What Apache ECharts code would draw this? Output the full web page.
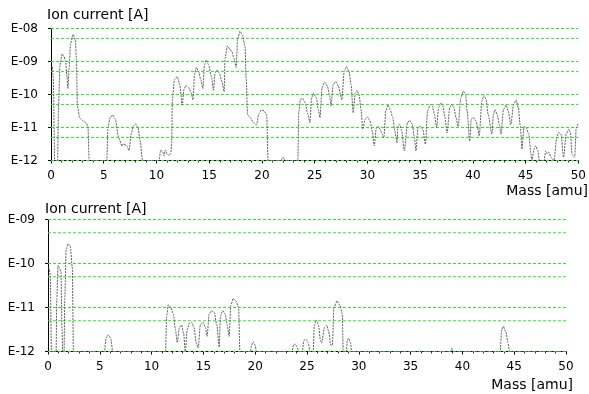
<!DOCTYPE html>
<html>
<head>
<meta charset="utf-8">
<script src="https://cdn.jsdelivr.net/npm/echarts@6/dist/echarts.min.js"></script>
<style>
  html, body { margin: 0; padding: 0; background: #fff; }
  #chart { width: 589px; height: 394px; }
</style>
</head>
<body>
<div id="chart"></div>
<script>
// Upper spectrum: mass [amu] and ion current [A]
const topMass = [
  0.0, 0.12, 0.22, 0.35, 0.62, 0.72, 0.85, 1.06, 1.25, 1.37, 1.5, 1.6, 1.72, 1.85, 2.1, 2.3, 2.42, 2.5, 2.73, 3.0,
  3.35, 3.5, 3.62, 5.29, 5.4, 5.6, 5.86, 6.1, 6.4, 6.74, 6.85, 7.2, 7.4, 7.6, 7.8, 8.0, 8.25, 8.45, 8.68, 10.25,
  10.4, 10.6, 10.7, 10.85, 11.0, 11.2, 11.35, 11.44, 11.5, 11.7, 11.97, 12.2, 12.44, 12.6, 12.8, 13.05, 13.3, 13.47, 13.6, 13.78,
  14.0, 14.2, 14.4, 14.55, 14.72, 14.95, 15.2, 15.41, 15.55, 15.73, 15.95, 16.2, 16.42, 16.5, 16.73, 16.95, 17.15, 17.35, 17.55, 17.7,
  17.92, 18.15, 18.4, 18.5, 18.64, 18.9, 19.2, 19.49, 19.7, 19.95, 20.2, 20.45, 20.58, 21.8, 22.0, 22.2, 23.4, 23.5, 23.65, 23.87,
  24.1, 24.35, 24.55, 24.7, 24.9, 25.15, 25.35, 25.5, 25.7, 25.95, 26.2, 26.4, 26.55, 26.75, 27.0, 27.25, 27.45, 27.57, 27.8, 28.02,
  28.25, 28.45, 28.65, 28.85, 29.0, 29.2, 29.4, 29.55, 29.8, 30.0, 30.25, 30.45, 30.65, 30.85, 31.0, 31.2, 31.4, 31.55, 31.75, 31.95,
  32.15, 32.4, 32.6, 32.8, 32.9, 33.05, 33.25, 33.5, 33.8, 34.0, 34.25, 34.45, 34.6, 34.8, 35.0, 35.25, 35.5, 35.7, 35.95, 36.15,
  36.35, 36.56, 36.75, 36.95, 37.15, 37.35, 37.56, 37.8, 38.0, 38.2, 38.4, 38.6, 38.85, 39.1, 39.3, 39.45, 39.7, 39.85, 40.05, 40.3,
  40.45, 40.6, 40.85, 41.05, 41.25, 41.45, 41.8, 41.95, 42.1, 42.3, 42.5, 42.67, 42.9, 43.14, 43.35, 43.6, 43.85, 44.1, 44.3, 44.5,
  44.65, 44.85, 45.05, 45.3, 45.5, 45.6, 45.8, 45.96, 46.15, 46.3, 46.75, 46.9, 47.05, 47.2, 47.4, 47.7, 47.95, 48.15, 48.35, 48.6,
  48.85, 49.1, 49.25, 49.4, 49.65, 49.8, 50.0
];
const topCurrent = [
  6.3e-10, 7.1e-10, 3.2e-10, 1e-12, 1e-12, 5.0e-11, 7.9e-10, 1.7e-9, 1.4e-9, 1.05e-9, 4.0e-10, 1.5e-10, 6.3e-10, 3.5e-9, 6.6e-9, 4.5e-9, 1.0e-9, 4.5e-11, 1.9e-11, 1.6e-11,
  1.35e-11, 1.07e-11, 1e-12, 1e-12, 1.0e-11, 2.0e-11, 2.4e-11, 1.8e-11, 5.0e-12, 2.75e-12, 3.2e-12, 2.8e-12, 2.0e-12, 6.3e-12, 1.1e-11, 1.3e-11, 1.0e-11, 4.0e-12, 1e-12, 1e-12,
  2.1e-12, 1.8e-12, 1.4e-12, 2.1e-12, 1.6e-12, 1.4e-12, 1.6e-12, 3.2e-12, 6.3e-11, 2.8e-10, 3.5e-10, 2.0e-10, 4.8e-11, 1.4e-10, 1.9e-10, 1.6e-10, 1.1e-10, 6.8e-11, 4.0e-10, 6.6e-10,
  5.0e-10, 2.8e-10, 1.5e-10, 7.9e-10, 1.1e-9, 7.9e-10, 3.5e-10, 1.35e-10, 4.5e-10, 5.6e-10, 4.5e-10, 2.5e-10, 1.2e-10, 1.26e-9, 2.95e-9, 2.4e-9, 2.0e-9, 1.26e-9, 6.6e-10, 5.0e-9,
  8.3e-9, 6.3e-9, 2.8e-9, 3.2e-10, 2.4e-11, 2.0e-11, 1.4e-11, 1.2e-11, 2.5e-11, 3.4e-11, 3.2e-11, 2.4e-11, 1e-12, 1e-12, 1.26e-12, 1e-12, 1e-12, 3.2e-11, 7.1e-11, 7.6e-11,
  5.6e-11, 2.5e-11, 1.4e-11, 7.9e-11, 1.1e-10, 7.9e-11, 3.5e-11, 2.0e-11, 1.6e-10, 2.4e-10, 1.8e-10, 1.0e-10, 4.5e-11, 2.0e-10, 2.5e-10, 1.8e-10, 1.0e-10, 6.8e-11, 5.0e-10, 7.1e-10,
  5.0e-10, 2.0e-10, 2.8e-11, 1.1e-10, 1.35e-10, 1.0e-10, 3.5e-11, 8.9e-12, 1.8e-11, 2.1e-11, 1.6e-11, 7.9e-12, 2.8e-12, 1.0e-11, 1.1e-11, 8.9e-12, 6.3e-12, 4.8e-12, 3.2e-11, 4.8e-11,
  3.5e-11, 2.0e-11, 7.9e-12, 3.4e-12, 1.1e-11, 1.26e-11, 7.9e-12, 1.95e-12, 1.4e-11, 1.66e-11, 1.26e-11, 5.0e-12, 1.95e-12, 1.0e-11, 1.1e-11, 8.9e-12, 3.1e-12, 3.2e-11, 5.0e-11, 4.5e-11,
  2.5e-11, 1.0e-11, 4.0e-11, 5.6e-11, 4.5e-11, 2.0e-11, 6.8e-12, 4.0e-11, 5.0e-11, 4.0e-11, 2.0e-11, 1.07e-11, 7.9e-11, 1.26e-10, 1.0e-10, 3.2e-11, 3.9e-12, 1.8e-11, 2.0e-11, 1.6e-11,
  1.0e-11, 5.5e-12, 6.3e-11, 9.3e-11, 7.1e-11, 2.5e-11, 6.2e-12, 2.5e-11, 3.5e-11, 2.5e-11, 1.26e-11, 6.2e-12, 3.5e-11, 4.8e-11, 3.2e-11, 1.2e-11, 5.0e-11, 6.8e-11, 4.0e-11, 1.1e-11,
  2.2e-12, 1.07e-11, 1.0e-11, 6.3e-12, 1.6e-12, 1e-12, 2.2e-12, 2.8e-12, 2.0e-12, 1e-12, 1e-12, 1.95e-12, 1.6e-12, 1.8e-12, 1.26e-12, 1e-12, 5.0e-12, 7.1e-12, 6.3e-12, 1.26e-12,
  6.3e-12, 8.9e-12, 7.1e-12, 1.5e-12, 1.26e-12, 1.0e-11, 1.4e-11
];

// Lower spectrum: mass [amu] and ion current [A]
const bottomMass = [
  0.0, 0.12, 0.22, 0.33, 0.78, 0.85, 0.97, 1.12, 1.25, 1.35, 1.42, 1.55, 1.62, 1.75, 1.93, 2.15, 2.35, 2.45, 5.45, 5.6,
  5.8, 6.05, 6.25, 11.35, 11.45, 11.6, 11.85, 12.1, 12.3, 12.47, 12.7, 12.9, 13.1, 13.25, 13.45, 13.65, 13.86, 14.1, 14.3, 14.5,
  14.7, 14.98, 15.2, 15.36, 15.55, 15.79, 16.05, 16.3, 16.52, 16.65, 16.85, 17.1, 17.3, 17.49, 17.65, 17.87, 18.15, 18.4, 18.52, 19.55,
  19.65, 19.8, 20.0, 20.1, 23.55, 23.7, 23.84, 24.05, 24.2, 24.55, 24.7, 24.9, 25.1, 25.3, 25.6, 25.7, 25.9, 26.1, 26.3, 26.4,
  26.7, 26.9, 27.1, 27.3, 27.45, 27.6, 27.9, 28.2, 28.4, 28.5, 28.8, 28.9, 29.0, 29.2, 29.3, 38.85, 38.98, 39.1, 43.64, 43.8,
  43.96, 44.2, 44.4, 44.54, 50.0
];
const bottomCurrent = [
  7.9e-11, 7.8e-11, 5.0e-11, 1e-12, 1e-12, 1.6e-11, 9.1e-11, 7.9e-11, 6.3e-11, 3.2e-12, 1e-12, 1e-12, 1.6e-11, 2.0e-10, 2.8e-10, 2.5e-10, 7.9e-11, 1e-12, 1e-12, 2.0e-12,
  2.4e-12, 2.0e-12, 1e-12, 1e-12, 6.3e-12, 1.15e-11, 1.0e-11, 7.1e-12, 3.2e-12, 1.6e-12, 3.6e-12, 4.0e-12, 2.5e-12, 1e-12, 3.2e-12, 4.4e-12, 4.6e-12, 3.5e-12, 1.6e-12, 1.2e-12,
  4.0e-12, 4.6e-12, 3.5e-12, 2.2e-12, 7.1e-12, 8.5e-12, 7.6e-12, 4.0e-12, 1.26e-12, 6.3e-12, 8.5e-12, 7.1e-12, 4.0e-12, 2.2e-12, 1.1e-11, 1.6e-11, 1.4e-11, 1.0e-11, 1e-12, 1e-12,
  1.4e-12, 1.66e-12, 1.4e-12, 1e-12, 1e-12, 1.4e-12, 1.5e-12, 1.26e-12, 1e-12, 1e-12, 1.8e-12, 1.9e-12, 1.6e-12, 1e-12, 1e-12, 4.0e-12, 5.2e-12, 4.0e-12, 1.8e-12, 1.55e-12,
  3.5e-12, 4.0e-12, 2.8e-12, 1.4e-12, 1.4e-12, 1.0e-11, 1.4e-11, 1.1e-11, 7.1e-12, 1e-12, 1e-12, 1.8e-12, 2.0e-12, 1.6e-12, 1e-12, 1e-12, 1.2e-12, 1e-12, 1e-12, 3.2e-12,
  3.7e-12, 2.8e-12, 1.6e-12, 1e-12, 1e-12
];

// Axis ranges, decade and half-decade guide levels
const massTicks = [0, 5, 10, 15, 20, 25, 30, 35, 40, 45, 50];
const topRange = [1e-12, 1e-8];
const bottomRange = [1e-12, 1e-9];
const topGuides = [1e-8, 5e-9, 1e-9, 5e-10, 1e-10, 5e-11, 1e-11, 5e-12, 1e-12];
const bottomGuides = [1e-9, 5e-10, 1e-10, 5e-11, 1e-11, 5e-12, 1e-12];

const LABEL_FONT = "'DejaVu Sans', 'Liberation Sans', sans-serif";
const GREEN = '#22ee22';
const guideStyle = () => ({ color: GREEN, width: 1, type: [3, 2] });

function expLabel(v) {
  const e = Math.round(-Math.log10(v));
  return 'E-' + String(e).padStart(2, '0');
}

function xAxisCfg(gridIndex) {
  return {
    gridIndex,
    type: 'value',
    min: massTicks[0],
    max: massTicks[massTicks.length - 1],
    interval: massTicks[1] - massTicks[0],
    axisLine: { show: true, onZero: false, lineStyle: { color: '#000', width: 1 } },
    axisTick: { show: true, length: 3, lineStyle: { color: '#000' } },
    minorTick: { show: true, splitNumber: 5, length: 2, lineStyle: { color: '#333' } },
    splitLine: { show: false },
    axisLabel: { color: '#000', fontFamily: LABEL_FONT, fontSize: 12, margin: 9 }
  };
}

function yAxisCfg(gridIndex, range) {
  return {
    gridIndex,
    type: 'log',
    logBase: 10,
    min: range[0],
    max: range[1],
    axisLine: { show: true, lineStyle: { color: '#000', width: 1 } },
    axisTick: { show: true, length: 3, lineStyle: { color: '#000' } },
    splitLine: { show: false },
    axisLabel: { color: '#000', fontFamily: LABEL_FONT, fontSize: 12, margin: 13, formatter: expLabel }
  };
}

// Dashed green guide lines across the full mass range
function guideSeries(idx, levels) {
  return levels.map(v => ({
    type: 'line',
    xAxisIndex: idx,
    yAxisIndex: idx,
    data: [[massTicks[0], v], [massTicks[massTicks.length - 1], v]],
    showSymbol: false,
    silent: true,
    lineStyle: guideStyle(),
    z: 1
  }));
}

function spectrum(idx, masses, currents) {
  return {
    type: 'line',
    xAxisIndex: idx,
    yAxisIndex: idx,
    data: masses.map((m, i) => [m, currents[i]]),
    showSymbol: false,
    smooth: 0.25,
    smoothMonotone: 'x',
    clip: true,
    lineStyle: { color: '#606060', width: 1, type: [2, 1] },
    z: 3
  };
}

const nameStyle = { fill: '#000', font: '14px ' + LABEL_FONT };

const chart = echarts.init(document.getElementById('chart'), null, { renderer: 'canvas' });
chart.setOption({
  animation: false,
  backgroundColor: '#fff',
  grid: [
    { left: 51, right: 6, top: 28.5, height: 132 },
    { left: 48, right: 23, top: 219.5, height: 132 }
  ],
  xAxis: [xAxisCfg(0), xAxisCfg(1)],
  yAxis: [yAxisCfg(0, topRange), yAxisCfg(1, bottomRange)],
  series: [
    ...guideSeries(0, topGuides),
    ...guideSeries(1, bottomGuides),
    spectrum(0, topMass, topCurrent),
    spectrum(1, bottomMass, bottomCurrent)
  ],
  graphic: [
    { type: 'text', left: 47, top: 8, style: Object.assign({ text: 'Ion current [A]' }, nameStyle) },
    { type: 'text', left: 45, top: 202, style: Object.assign({ text: 'Ion current [A]' }, nameStyle) },
    { type: 'text', right: 1, top: 184, style: Object.assign({ text: 'Mass [amu]' }, nameStyle) },
    { type: 'text', right: 16, top: 378, style: Object.assign({ text: 'Mass [amu]' }, nameStyle) }
  ]
});
</script>
</body>
</html>
